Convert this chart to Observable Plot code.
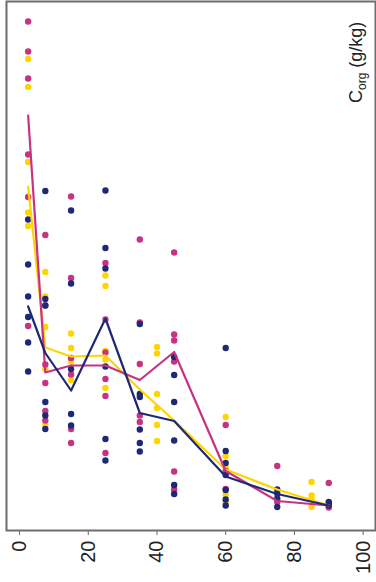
<!DOCTYPE html>
<html><head><meta charset="utf-8">
<script src="https://cdn.jsdelivr.net/npm/d3@7"></script>
<script src="https://cdn.jsdelivr.net/npm/@observablehq/plot@0.6"></script>
<style>html,body{margin:0;padding:0;background:#fff;} #chart svg{display:block}</style>
</head><body><div id="chart"></div>
<script>
// x: depth, y: C_org (g/kg)
const depthTicks = [0, 20, 40, 60, 80, 100];
const yLabelMain = "C";
const yLabelSub = "org";
const yLabelUnit = " (g/kg)";

const seriesNames = ["S1", "S2", "S3"];
const seriesColors = ["#ffd500", "#c83282", "#1f2874"];

// S2 (magenta)
const pinkDepth = [2.5,2.5,2.5,2.5,2.5,2.5, 7.5,7.5,7.5,7.5,7.5,7.5, 15,15,15,15,15,15, 25,25,25,25,25,25, 35,35,35,35,35, 45,45,45,45,45,45, 60,60,60, 75,75, 90,90];
const pinkC =     [101.8,95.8,90.4,75.2,66.7,40.9, 59.1,45.0,33.2,29.5,23.9,22.0, 66.8,50.5,34.5,31.2,20.3,17.5, 53.5,42.2,35.6,30.3,26.9,15.5, 58.2,41.6,33.3,23.0,21.7, 55.6,39.2,38.0,33.8,11.8,8.2, 21.1,11.9,8.3, 12.9,5.7, 9.5,4.6];

// S1 (yellow)
const yellowDepth = [2.5,2.5,2.5,2.5,2.5, 7.5,7.5,7.5,7.5,7.5, 15,15,15,15, 25,25,25,25,25, 40,40,40,40,40,40, 60,60,60,60,60, 85,85,85,85];
const yellowC =     [94.3,88.7,73.7,63.6,60.9, 51.7,46.8,40.7,32.3,21.1, 39.4,36.5,33.8,30.1, 51.0,48.9,35.9,34.2,28.5, 36.7,35.4,27.3,24.5,21.1,17.9, 22.7,14.9,12.6,7.2,5.6, 9.7,7.0,6.3,4.7];

// S3 (navy)
const navyDepth = [2.5,2.5,2.5,2.5,2.5,2.5, 7.5,7.5,7.5,7.5,7.5,7.5, 15,15,15,15,15, 25,25,25,25,25,25, 35,35,35,35,35,35, 45,45,45,45,45,45, 60,60,60,60,60,60,60, 75,75,75,75, 90,90,90];
const navyC =     [62.2,53.2,46.8,42.7,37.6,31.8, 67.9,46.3,45.0,25.7,23.0,20.3, 64.0,49.4,32.3,23.3,21.0, 68.0,56.5,52.4,32.8,18.3,14.0, 41.3,27.3,26.7,20.2,17.5,15.8, 34.7,31.1,25.7,18.0,9.1,7.3, 36.5,15.9,13.5,11.1,8.1,6.2,5.0, 8.2,7.4,6.4,4.7, 5.7,5.4,5.0];

const lineDepth  = [2.5, 7.5, 15, 25, 35, 45, 60, 75, 90];
const yellowMean = [68.8, 36.6, 34.8, 35.0, 28.2, 22.0, 12.2, 8.2, 5.0];
const pinkMean   = [83.0, 31.6, 33.0, 33.0, 30.1, 35.7, 11.9, 5.9, 5.0];
const navyMean   = [44.8, 35.5, 28.0, 42.4, 23.5, 21.9, 10.8, 7.3, 5.0];

const toRows = (s, xs, ys) => xs.map((x, i) => ({series: s, depth: x, c: ys[i]}));
const pts = [
  ...toRows("S1", yellowDepth, yellowC),
  ...toRows("S2", pinkDepth, pinkC),
  ...toRows("S3", navyDepth, navyC)
];
const means = [
  ...toRows("S1", lineDepth, yellowMean),
  ...toRows("S2", lineDepth, pinkMean),
  ...toRows("S3", lineDepth, navyMean)
];

const chart = Plot.plot({
  width: 376, height: 582,
  marginLeft: 6, marginRight: 1, marginTop: 1, marginBottom: 52,
  x: {domain: [-3.8, 103.6]},
  y: {domain: [0, 105.8], axis: null},
  color: {type: "ordinal", domain: seriesNames, range: seriesColors},
  style: {fontFamily: "'Liberation Sans', Arial, sans-serif", background: "#fff"},
  marks: [
    Plot.axisX({ticks: depthTicks, tickRotate: -90, tickSize: 5, tickPadding: 5, fontSize: 20, label: null, stroke: "#666", fill: "#222"}),
    Plot.dot(pts, {x: "depth", y: "c", fill: "series", r: 3.2}),
    Plot.line(means, {x: "depth", y: "c", z: "series", stroke: "series", strokeWidth: 2.2}),
    Plot.frame({stroke: "#6e6e6e", strokeWidth: 2})
  ]
});
document.getElementById("chart").appendChild(chart);

const svg = d3.select(chart);
const lbl = svg.append("text")
  .attr("transform", `translate(${376 - 1 - 13}, 103) rotate(-90)`)
  .attr("text-anchor", "start")
  .attr("font-family", "'Liberation Sans', Arial, sans-serif")
  .attr("font-size", 18)
  .attr("fill", "#222");
lbl.append("tspan").text(yLabelMain);
lbl.append("tspan").attr("font-size", 12).attr("dy", 4).text(yLabelSub);
lbl.append("tspan").attr("dy", -4).text(yLabelUnit);
</script>
</body></html>
